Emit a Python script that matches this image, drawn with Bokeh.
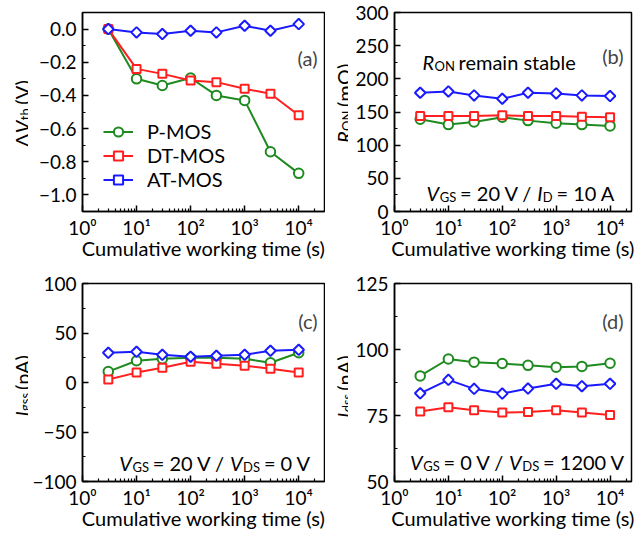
import numpy as np
from bokeh.plotting import figure
from bokeh.models import (Label, Legend, LegendItem, FixedTicker,
                          CustomJSTickFormatter, Range1d)
from bokeh.layouts import column, row
from bokeh.embed import file_html
from bokeh.resources import INLINE

# ---------------- data ----------------
time_s = [3, 10, 30, 100, 300, 1000, 3000, 10000]
series_names = ["P-MOS", "DT-MOS", "AT-MOS"]

dvth_p = [0.0, -0.30, -0.34, -0.295, -0.40, -0.43, -0.74, -0.87]
dvth_dt = [0.0, -0.24, -0.27, -0.31, -0.32, -0.36, -0.39, -0.52]
dvth_at = [0.0, -0.02, -0.03, -0.01, -0.02, 0.02, -0.01, 0.03]

ron_p = [139, 131, 135, 142, 137, 133, 131, 129]
ron_dt = [144, 144, 144, 145, 144, 144, 143, 142]
ron_at = [179, 181, 175, 170, 179, 178, 175, 174]

igss_p = [11, 22, 24, 25, 25, 24, 20, 30]
igss_dt = [3, 10, 15, 21, 19, 17, 14, 10]
igss_at = [30, 31, 28, 26, 27, 28, 32, 33]

idss_p = [90, 96.4, 95.2, 94.7, 94.0, 93.3, 93.6, 94.8]
idss_dt = [76.5, 78.1, 77.0, 76.1, 76.3, 77.0, 76.1, 75.2]
idss_at = [83.4, 88.5, 85.1, 83.3, 85.2, 87.0, 86.1, 87.0]

x_ticks = [1, 10, 100, 1000, 10000]
x_minor = [2, 3, 4, 5, 6, 7, 8, 9, 20, 30, 40, 50, 60, 70, 80, 90,
           200, 300, 400, 500, 600, 700, 800, 900,
           2000, 3000, 4000, 5000, 6000, 7000, 8000, 9000, 20000]

a_ticks = [-1.0, -0.8, -0.6, -0.4, -0.2, 0.0]
a_minor = [-1.1, -0.9, -0.7, -0.5, -0.3, -0.1, 0.1]
b_ticks = [0, 50, 100, 150, 200, 250, 300]
b_minor = [25, 75, 125, 175, 225, 275]
c_ticks = [-100, -50, 0, 50, 100]
c_minor = [-75, -25, 25, 75]
d_ticks = [50, 75, 100, 125]
d_minor = [62.5, 87.5, 112.5]

GREEN = "#1f8a1f"
RED = "#ff1f1f"
BLUE = "#1a1aff"
FONT = "Lato"
FS = 20
TFS = 19
SUB = 13

W = {' ': 0.22, '=': 0.58, '/': 0.36, '(': 0.30, ')': 0.30, '.': 0.22,
     'V': 0.66, 'R': 0.60, 'I': 0.28, 'O': 0.80, 'N': 0.78, 'G': 0.74,
     'S': 0.55, 'D': 0.78, 'A': 0.70, 't': 0.36, 'h': 0.56, 'g': 0.50,
     's': 0.42, 'd': 0.56, 'p': 0.56, 'n': 0.56, 'm': 0.84, 'Ω': 0.78,
     'r': 0.37, 'e': 0.52, 'a': 0.50, 'i': 0.24, 'b': 0.56, 'l': 0.24,
     'Δ': 0.68, 'c': 0.47}


def twidth(text, size):
    return sum(W.get(ch, 0.58) for ch in text) * size


def rich(p, pieces, x, y, dx=0.0, dy=0.0, angle=0.0, anchor="left", sub_shift=4):
    """Mixed-style text (italic / subscript pieces) placed piece by piece."""
    sizes = [SUB if s else FS for (_, _, s) in pieces]
    gaps = [3.5 if s else 0.0 for (_, _, s) in pieces]
    total = sum(twidth(t, sz) + g for (t, _, _), sz, g in zip(pieces, sizes, gaps))
    off = {"left": 0.0, "center": -total / 2, "right": -total}[anchor]
    for (text, italic, is_sub), size, g in zip(pieces, sizes, gaps):
        shift = -sub_shift if is_sub else 0
        if angle == 0:
            xo, yo = dx + off, dy + shift
        else:
            xo, yo = dx - shift, dy + off
        p.add_layout(Label(x=x, y=y, x_offset=xo, y_offset=yo, text=text,
                           angle=angle, text_font=FONT,
                           text_font_size=f"{size}px",
                           text_font_style="italic" if italic else "normal",
                           text_align="left", text_baseline="alphabetic",
                           text_color="black"))
        off += twidth(text, size) + g


XFMT = CustomJSTickFormatter(code="""
const sup = {"0":"\u2070","1":"\u00b9","2":"\u00b2","3":"\u00b3","4":"\u2074",
             "5":"\u2075","6":"\u2076","7":"\u2077","8":"\u2078","9":"\u2079","-":"\u207b"};
const e = Math.round(Math.log10(tick));
return "10" + String(e).split("").map(c => sup[c]).join("");
""")


def yfmt(dec):
    return CustomJSTickFormatter(args=dict(d=dec), code="""
if (Math.abs(tick) < 1e-9) { return (0).toFixed(d); }
return (tick < 0 ? "\u2212" : "") + Math.abs(tick).toFixed(d);
""")


def make_fig(width, height, bl, bt, br, bb, x_end, yr, yt, ym, dec):
    p = figure(width=width, height=height, x_axis_type="log",
               x_range=Range1d(1, x_end), y_range=Range1d(*yr),
               output_backend="svg", toolbar_location=None,
               min_border_left=bl, min_border_top=bt,
               min_border_right=br, min_border_bottom=bb)
    p.xgrid.visible = False
    p.ygrid.visible = False
    p.outline_line_color = "black"
    p.outline_line_width = 1.5
    p.outline_line_alpha = 1.0
    p.background_fill_color = "white"
    p.border_fill_color = "white"
    for ax in (p.xaxis[0], p.yaxis[0]):
        ax.axis_line_width = 1.5
        ax.axis_line_color = "black"
        ax.major_tick_in = 6
        ax.major_tick_out = 0
        ax.minor_tick_in = 3
        ax.minor_tick_out = 0
        ax.major_tick_line_width = 1.5
        ax.minor_tick_line_width = 1.2
        ax.major_tick_line_color = "black"
        ax.minor_tick_line_color = "black"
        ax.major_label_text_font = FONT
        ax.major_label_text_font_size = f"{TFS}px"
        ax.major_label_text_color = "black"
    xa = p.xaxis[0]
    xa.ticker = FixedTicker(ticks=x_ticks, minor_ticks=x_minor)
    xa.formatter = XFMT
    xa.major_label_standoff = 4
    xa.axis_label = "Cumulative working time (s)"
    xa.axis_label_text_font = FONT
    xa.axis_label_text_font_size = f"{FS}px"
    xa.axis_label_text_font_style = "normal"
    xa.axis_label_text_color = "black"
    xa.axis_label_standoff = -6
    ya = p.yaxis[0]
    ya.ticker = FixedTicker(ticks=yt, minor_ticks=ym)
    ya.formatter = yfmt(dec)
    ya.major_label_standoff = 6
    return p


def label_fig(width, height, bt, bb):
    """Blank strip (same frame rows as its panel) holding a rotated y-axis title."""
    fh = height - bt - bb
    f = figure(width=width, height=height, x_range=Range1d(0, width),
               y_range=Range1d(0, fh), output_backend="svg",
               toolbar_location=None, x_axis_location=None,
               y_axis_location=None, min_border=0)
    f.min_border_left = 0
    f.min_border_right = 0
    f.min_border_top = bt
    f.min_border_bottom = bb
    f.xgrid.visible = False
    f.ygrid.visible = False
    f.outline_line_color = None
    f.background_fill_color = "white"
    f.border_fill_color = "white"
    return f


def add_series(p, ys):
    rs = []
    for vals, color, marker, size, ang in zip(
            ys, [GREEN, RED, BLUE], ["circle", "square", "square"],
            [9.5, 8, 7.5], [0, 0, np.pi / 4]):
        ln = p.line(time_s, vals, line_color=color, line_width=2)
        sc = p.scatter(time_s, vals, marker=marker, size=size, angle=ang,
                       line_color=color, fill_color="white", line_width=2)
        rs.append([ln, sc])
    return rs


def panel_tag(p, x, y, txt, dx, dy):
    p.add_layout(Label(x=x, y=y, x_offset=dx, y_offset=dy, text=txt,
                       text_font=FONT, text_font_size=f"{FS}px",
                       text_align="right", text_baseline="middle"))


# ---------------- panel (a) ----------------
la = label_fig(28, 270, 12, 59)
rich(la, [("Δ", False, False), ("V", True, False), ("th", False, True),
          (" (V)", False, False)], 21, 211 - 110.5, angle=np.pi / 2,
     anchor="center", sub_shift=3)
pa = make_fig(297, 270, 54, 12, 1, 59, 3e4, (-1.1, 0.1), a_ticks, a_minor, 1)
ra = add_series(pa, [dvth_p, dvth_dt, dvth_at])
leg = Legend(items=[LegendItem(label=n, renderers=r) for n, r in zip(series_names, ra)],
             location=(21, 20), glyph_width=30, glyph_height=23,
             label_height=23, label_standoff=14, spacing=0, padding=0,
             margin=0, border_line_color=None, background_fill_alpha=0,
             label_text_font=FONT, label_text_font_size=f"{FS}px",
             label_text_color="black")
pa.add_layout(leg)
panel_tag(pa, 3e4, 0.1, "(a)", -7, -45)

# ---------------- panel (b) ----------------
lb = label_fig(23, 270, 12, 59)
rich(lb, [("R", True, False), ("ON", False, True), (" (mΩ)", False, False)],
     18.5, 211 - 100, angle=np.pi / 2, anchor="center", sub_shift=3)
pb = make_fig(286, 270, 46, 12, 3, 59, 2.5e4, (0, 300), b_ticks, b_minor, 0)
add_series(pb, [ron_p, ron_dt, ron_at])
panel_tag(pb, 2.5e4, 300, "(b)", -8, -43)
rich(pb, [("R", True, False), ("ON", False, True), (" remain stable", False, False)],
     1, 0, 28, 150)
rich(pb, [("V", True, False), ("GS", False, True), (" = 20 V / ", False, False),
          ("I", True, False), ("D", False, True), (" = 10 A", False, False)],
     2.5e4, 0, -13, 19, anchor="right")

# ---------------- panel (c) ----------------
lc = label_fig(28, 271, 13, 60)
rich(lc, [("I", True, False), ("gss", False, True), (" (pA)", False, False)],
     21, 481 - 382, angle=np.pi / 2, anchor="center", sub_shift=3)
pc = make_fig(297, 271, 54, 13, 1, 60, 3e4, (-100, 100), c_ticks, c_minor, 0)
add_series(pc, [igss_p, igss_dt, igss_at])
panel_tag(pc, 3e4, 100, "(c)", -7, -37)
rich(pc, [("V", True, False), ("GS", False, True), (" = 20 V / ", False, False),
          ("V", True, False), ("DS", False, True), (" = 0 V", False, False)],
     3e4, -100, -11, 19, anchor="right")

# ---------------- panel (d) ----------------
ld = label_fig(23, 271, 13, 60)
rich(ld, [("I", True, False), ("dss", False, True), (" (nA)", False, False)],
     18.5, 481 - 383, angle=np.pi / 2, anchor="center", sub_shift=3)
pd_ = make_fig(286, 271, 46, 13, 3, 60, 2.5e4, (50, 125), d_ticks, d_minor, 0)
add_series(pd_, [idss_p, idss_dt, idss_at])
panel_tag(pd_, 2.5e4, 125, "(d)", -8, -37)
rich(pd_, [("V", True, False), ("GS", False, True), (" = 0 V / ", False, False),
           ("V", True, False), ("DS", False, True), (" = 1200 V", False, False)],
     2.5e4, 50, -4, 20, anchor="right")

layout = column(row(la, pa, lb, pb), row(lc, pc, ld, pd_))
open("out.html", "w").write(file_html(layout, INLINE))
